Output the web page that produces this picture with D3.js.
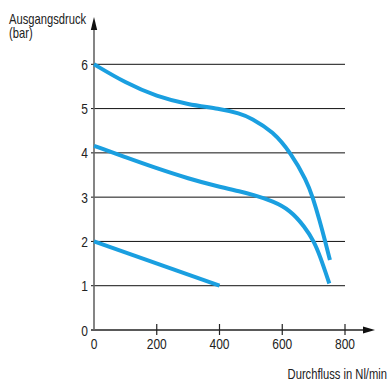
<!DOCTYPE html>
<html><head><meta charset="utf-8">
<script src="https://cdn.jsdelivr.net/npm/d3@7"></script>
<style>body{margin:0;background:#fff}text{font-family:"Liberation Sans",Arial,sans-serif;fill:#222}</style>
</head><body><svg id="c" width="390" height="383"></svg>
<script>
const xTicks = [0, 200, 400, 600, 800];
const yTicks = [0, 1, 2, 3, 4, 5, 6];
const curve6 = [[0,6],[100,5.58],[200,5.27],[300,5.09],[400,5.0],[465,4.89],[500,4.79],[571,4.48],[627,4.0],[678,3.37],[697,3.0],[720,2.45],[737,2.0],[752,1.58]];
const curve4 = [[0,4.16],[100,3.9],[200,3.65],[300,3.42],[400,3.23],[465,3.13],[513,3.04],[570,2.91],[625,2.71],[672,2.33],[701,2.0],[720,1.68],[750,1.05]];
const curve2 = [[0,2],[400,1]];
const yTitle = ["Ausgangsdruck", "(bar)"];
const xTitle = "Durchfluss in Nl/min";

const svg = d3.select("#c");
const x = d3.scaleLinear().domain([0, 800]).range([94, 345]);
const y = d3.scaleLinear().domain([0, 6]).range([330, 64.3]);
const SX = 0.8;
function txt(g, px, py, s, size, anchor) {
  return g.append("text").attr("transform", `translate(${px},${py}) scale(${SX},1)`)
    .attr("text-anchor", anchor || "start").attr("font-size", size).text(s);
}

// grid lines
svg.append("g").selectAll("line").data(yTicks.filter(d => d > 0)).join("line")
  .attr("x1", x(0) - 3).attr("x2", x(800)).attr("y1", d => y(d)).attr("y2", d => y(d))
  .attr("stroke", "#111").attr("stroke-width", 1);

// y tick labels
const gy = svg.append("g");
yTicks.forEach(d => txt(gy, 88, y(d) + 5.5, d, 15, "end"));

// x axis line
svg.append("line").attr("x1", x(0) - 3).attr("x2", 366).attr("y1", y(0)).attr("y2", y(0))
  .attr("stroke", "#222").attr("stroke-width", 1.3);
svg.append("path").attr("d", `M363,${y(0)-3.5}L375,${y(0)}L363,${y(0)+3.5}Z`).attr("fill", "#111");
// x ticks
svg.append("g").selectAll("line").data(xTicks.filter(d => d > 0)).join("line")
  .attr("x1", d => x(d)).attr("x2", d => x(d)).attr("y1", y(0) - 6).attr("y2", y(0) + 5)
  .attr("stroke", "#222").attr("stroke-width", 1.2);
const gx = svg.append("g");
xTicks.forEach(d => txt(gx, x(d), 349, d, 15, "middle"));

// y axis
svg.append("line").attr("x1", x(0)).attr("x2", x(0)).attr("y1", 28).attr("y2", y(0))
  .attr("stroke", "#666").attr("stroke-width", 1.6);
svg.append("path").attr("d", `M${x(0)-3.2},30L${x(0)},17L${x(0)+3.2},30Z`).attr("fill", "#111");

// curves
const line = d3.line().x(d => x(d[0])).y(d => y(d[1])).curve(d3.curveBasis);
[curve6, curve4, curve2].forEach(c => {
  svg.append("path").attr("d", line(c)).attr("fill", "none")
    .attr("stroke", "#1a9fe0").attr("stroke-width", 4).attr("stroke-linecap", "butt");
});

// titles
const gt = svg.append("g");
txt(gt, 9, 24, yTitle[0], 14);
txt(gt, 9, 38, yTitle[1], 14);
txt(gt, 387, 379, xTitle, 14, "end");
</script></body></html>
